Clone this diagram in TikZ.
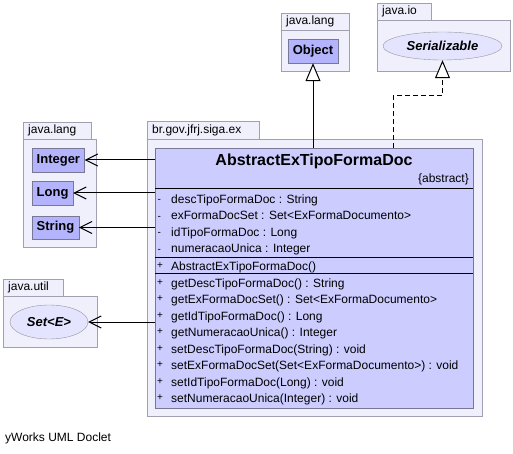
\documentclass[tikz,border=0pt]{standalone}
\usepackage{fontspec}
\setmainfont{Liberation Sans}
\usetikzlibrary{arrows.meta,shapes.geometric}

\definecolor{pkgfill}{RGB}{240,240,252}
\definecolor{pkgline}{RGB}{160,160,176}
\definecolor{clsfill}{RGB}{204,204,255}
\definecolor{clsline}{RGB}{120,120,150}
\definecolor{boxfill}{RGB}{180,180,252}
\definecolor{ellfill}{RGB}{228,228,255}
\definecolor{ellline}{RGB}{150,150,160}

\tikzset{
  pkgtab/.style={draw=pkgline, fill=pkgfill, anchor=north west, inner xsep=5pt, inner ysep=0pt,
    text height=9pt, text depth=3pt, align=left, minimum height=17pt, font=\fontsize{12}{14}\selectfont},
  pkgbody/.style={draw=pkgline, fill=pkgfill, anchor=north west, inner sep=0pt},
  clsbox/.style={draw=clsline, fill=boxfill, anchor=west, minimum height=24pt, inner xsep=4.5pt,
    font=\bfseries\fontsize{13}{15}\selectfont},
  iface/.style={ellipse, draw=ellline, fill=ellfill, inner sep=0pt, font=\bfseries\itshape\fontsize{13}{15}\selectfont},
  member/.style={anchor=base west, inner sep=0pt, font=\fontsize{12}{14}\selectfont},
  vis/.style={anchor=base west, inner sep=0pt, font=\fontsize{10}{12}\selectfont},
  dep/.style={-{Straight Barb[length=12pt,width=12pt]}, line width=1pt},
  gen/.style={-{Triangle[open,length=18pt,width=15pt,fill=white]}, line width=1pt},
  real/.style={gen, dash pattern=on 5pt off 3pt}
}

\begin{document}
\begin{tikzpicture}[x=1pt,y=-1pt]
\useasboundingbox[fill=white] (0,0) rectangle (513,454);

\node[pkgtab, text width=58pt] (objtab) at (281,13) {java.lang};
\node[pkgbody, minimum width=68pt, minimum height=41pt] (objpkg) at (281,30) {};
\node[clsbox, anchor=center] (obj) at (313,51) {Object};

\node[pkgtab, text width=44pt] (iotab) at (377,3) {java.io};
\node[pkgbody, minimum width=133pt, minimum height=51pt] (iopkg) at (377,20) {};
\node[iface, minimum width=119pt, minimum height=28pt] (ser) at (442.5,46) {Serializable};

\node[pkgtab, text width=58pt] (langtab) at (23,122) {java.lang};
\node[pkgbody, minimum width=73pt, minimum height=108pt] (langpkg) at (23,139) {};
\node[clsbox] (int) at (32,160) {Integer};
\node[clsbox] (long) at (32,193) {Long};
\node[clsbox, minimum height=23pt] (str) at (32,227.5) {String};

\node[pkgtab, text width=50pt] (utiltab) at (3,279) {java.util};
\node[pkgbody, minimum width=94pt, minimum height=51pt] (utilpkg) at (3,296) {};
\node[iface, minimum width=78pt, minimum height=34pt] (set) at (49,322) {Set<E>};

\node[pkgtab, text width=102pt, minimum height=18pt] (extab) at (147,121) {br.gov.jfrj.siga.ex};
\node[pkgbody, minimum width=335pt, minimum height=277pt] (expkg) at (147,139) {};
\node[draw=clsline, fill=clsfill, anchor=north west, inner sep=0pt, minimum width=318pt, minimum height=260pt] (cls) at (155,148) {};
\node[anchor=base, inner sep=0pt, font=\bfseries\fontsize{16}{19}\selectfont] (clsname) at (314,166) {AbstractExTipoFormaDoc};
\node[anchor=base east, inner sep=0pt, font=\fontsize{12}{14}\selectfont] (clsabs) at (469,183) {\{abstract\}};

\draw[line width=1pt] (cls.west |- 0,189) -- (cls.east |- 0,189);
\draw[line width=1pt] (cls.west |- 0,257) -- (cls.east |- 0,257);
\draw[line width=1pt] (cls.west |- 0,273) -- (cls.east |- 0,273);

\foreach \t [count=\i] in {descTipoFormaDoc : String, exFormaDocSet : Set<ExFormaDocumento>,
    idTipoFormaDoc : Long, numeracaoUnica : Integer}{
  \node[vis] (attrvis\i) at (157.5,{199+16.5*(\i-1)+3.5}) {-};
  \node[member] (attr\i) at (171,{199+16.5*(\i-1)+4.3}) {\t};
}

\node[vis] (ctorvis) at (157,{266.5+2}) {+};
\node[member] (ctor) at (171,{266.5+4.3}) {AbstractExTipoFormaDoc()};

\foreach \t [count=\i] in {getDescTipoFormaDoc() : String, getExFormaDocSet() : Set<ExFormaDocumento>,
    getIdTipoFormaDoc() : Long, getNumeracaoUnica() : Integer, setDescTipoFormaDoc(String) : void,
    setExFormaDocSet(Set<ExFormaDocumento>) : void, setIdTipoFormaDoc(Long) : void,
    setNumeracaoUnica(Integer) : void}{
  \node[vis] (methvis\i) at (157,{283+16.5*(\i-1)+2}) {+};
  \node[member] (meth\i) at (171,{283+16.5*(\i-1)+4.3}) {\t};
}

\node[member] (doclet) at (5,441) {yWorks UML Doclet};

\draw[dep] (cls.west |- int) -- (int);
\draw[dep] (cls.west |- long) -- (long);
\draw[dep] (cls.west |- str) -- (str);
\draw[dep] (cls.west |- set) -- (set);

\draw[gen] (cls.north -| obj) -- (obj);
\coordinate (realpt) at (393,148);
\draw[real] (realpt) -- ++(0,-52) -| (ser);
\end{tikzpicture}
\end{document}
